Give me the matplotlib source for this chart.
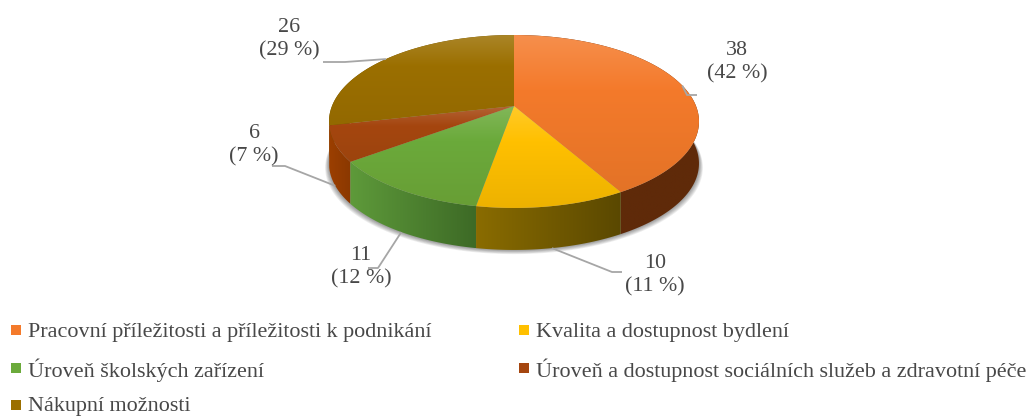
import numpy as np
import matplotlib
matplotlib.use('Agg')
import matplotlib.pyplot as plt
from matplotlib.colors import LinearSegmentedColormap
from matplotlib.patches import Polygon, Rectangle

plt.rcParams['font.family'] = ['Liberation Serif', 'DejaVu Serif']

categories = ['Pracovní příležitosti a příležitosti k podnikání',
              'Kvalita a dostupnost bydlení',
              'Úroveň školských zařízení',
              'Úroveň a dostupnost sociálních služeb a zdravotní péče',
              'Nákupní možnosti']
values = [38, 10, 11, 6, 26]
colors = ['#F47A2B', '#FFC000', '#6BAA3B', '#A5460F', '#9B6F00']
wall_left = ['#5F2A09', '#8A6C00', '#5E9A3A', '#9C3F00', '#6E5000']
wall_right = ['#5F2A09', '#5A4800', '#3D6A26', '#8A3800', '#6E5000']

# label centre and the elbow of each leader (pixels)
label_pos = [(737, 62), (655, 275), (361, 267), (254, 145), (289, 39)]
elbows = [[(687, 95), (697, 95)], [(612, 272), (622, 272)], [(378, 268), (368, 268)],
          [(285, 166), (272, 166)], [(345, 62), (323, 62)]]
leader_on_wall = [False, True, True, True, False]
legend_pos = [(16, 330), (524, 330), (16, 368), (524, 368), (16, 405)]

# pie geometry : perspective view of a unit circle
cx, cy = 514, 106
a, b, k = 182, 83.7, -0.179
depth = 42


def rim(deg):
    t = np.radians(deg)
    x, y = np.sin(t), np.cos(t)
    d = 1 - k * y
    return cx + a * x / d, cy - b * y / d


def mix(c, other, f):
    c = np.array(matplotlib.colors.to_rgb(c))
    return tuple(c * (1 - f) + np.array(other) * f)


def grad_fill(ax, pts, stops, vertical=True, z=2):
    pts = np.array(pts)
    x0, x1 = pts[:, 0].min(), pts[:, 0].max()
    y0, y1 = pts[:, 1].min(), pts[:, 1].max()
    cmap = LinearSegmentedColormap.from_list('g', stops)
    g = np.linspace(0, 1, 256)
    g = g.reshape(-1, 1) if vertical else g.reshape(1, -1)
    im = ax.imshow(g, cmap=cmap, extent=(x0, x1, y1, y0), origin='upper',
                   aspect='auto', zorder=z, interpolation='bilinear')
    p = Polygon(pts, closed=True, transform=ax.transData, fc='none', ec='none')
    ax.add_patch(p)
    im.set_clip_path(p)


fig = plt.figure(figsize=(10.28, 4.16), dpi=100)
ax = fig.add_axes([0, 0, 1, 1])
ax.set_xlim(0, 1028)
ax.set_ylim(416, 0)
ax.axis('off')

edges = np.concatenate([[0], np.cumsum(values)]) / sum(values) * 360

# soft shadow under the pie
ang = np.linspace(0, 360, 361)
rx, ry = rim(ang)
for grow in range(6, 0, -1):
    ax.add_patch(Polygon(np.c_[cx + (rx - cx) * (1 + grow * 0.0035), ry + depth + grow * 0.7],
                         closed=True, fc='#000000', ec='none', alpha=0.07, zorder=1))

# walls
for i in [4, 0, 3, 1, 2]:
    t = np.linspace(edges[i], edges[i + 1], 120)
    x, y = rim(t)
    pts = np.r_[np.c_[x, y], np.c_[x, y + depth][::-1]]
    grad_fill(ax, pts, [wall_left[i], wall_right[i]], vertical=False, z=2)

# top faces
for i, c in enumerate(colors):
    t = np.linspace(edges[i], edges[i + 1], 120)
    x, y = rim(t)
    pts = np.r_[[(cx, cy)], np.c_[x, y]]
    stops = [(0, mix(c, (1, 1, 1), 0.16)), (0.35, c), (1, mix(c, (0.3, 0.2, 0), 0.1))]
    grad_fill(ax, pts, stops, z=3)

# data labels and leaders
total = sum(values)
for i, v in enumerate(values):
    x, y = rim((edges[i] + edges[i + 1]) / 2)
    if leader_on_wall[i]:
        y += depth
    line = [(x, y)] + elbows[i]
    ax.plot(*zip(*line), color='#A6A6A6', lw=1.3, zorder=4, solid_capstyle='butt')
    ax.text(*label_pos[i], f'{v}\n({round(v / total * 100)} %)', ha='center', va='center',
            fontsize=15.8, color='#484848', linespacing=1.28, zorder=5)

# legend
for (x, y), c, name in zip(legend_pos, colors, categories):
    ax.add_patch(Rectangle((x - 5, y - 5), 10, 10, fc=c, ec='none'))
    ax.text(x + 12, y + 2, name, ha='left', va='center', fontsize=15.9, color='#484848')

fig.savefig('out.png', dpi=100)
